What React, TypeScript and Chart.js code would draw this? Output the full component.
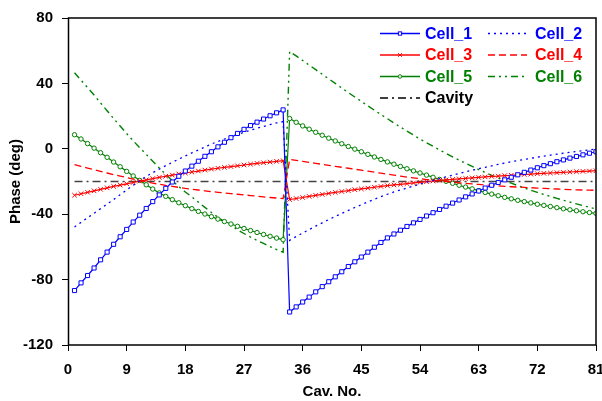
import React, { useEffect, useRef } from 'react';
import { Chart, registerables } from 'chart.js';

Chart.register(...registerables);

// Cavity numbers
const cav = [
  1, 2, 3, 4, 5, 6, 7, 8, 9, 10, 11, 12, 13, 14, 15, 16, 17, 18, 19, 20,
  21, 22, 23, 24, 25, 26, 27, 28, 29, 30, 31, 32, 33, 34, 35, 36, 37, 38, 39, 40,
  41, 42, 43, 44, 45, 46, 47, 48, 49, 50, 51, 52, 53, 54, 55, 56, 57, 58, 59, 60,
  61, 62, 63, 64, 65, 66, 67, 68, 69, 70, 71, 72, 73, 74, 75, 76, 77, 78, 79, 80, 81,
];

const cell1 = [
  -86.7, -82.0, -77.5, -72.9, -67.9, -63.2, -58.4, -53.8, -49.3, -44.8,
  -40.6, -36.5, -32.3, -28.2, -24.2, -20.3, -16.8, -13.6, -10.6, -7.6,
  -4.6, -1.8, 1.2, 4.0, 6.8, 9.4, 11.9, 14.2, 16.3, 18.2,
  20.2, 22.0, 23.8, -99.8, -96.7, -93.7, -90.7, -87.5, -84.3, -81.3,
  -78.3, -75.2, -72.0, -69.1, -66.2, -63.2, -60.2, -57.3, -54.5, -52.1,
  -49.8, -47.5, -45.3, -43.2, -41.1, -39.1, -37.1, -35.1, -33.2, -31.3,
  -29.4, -27.6, -25.8, -24.0, -22.3, -20.6, -19.0, -17.4, -15.9, -14.4,
  -13.0, -11.6, -10.3, -9.1, -7.9, -6.8, -5.7, -4.7, -3.7, -2.7, -1.8,
];

const cell2 = [
  -47.8, -45.0, -42.2, -39.4, -36.6, -33.8, -31.0, -28.1, -25.2, -22.3,
  -19.5, -16.9, -14.6, -12.4, -10.3, -8.3, -6.3, -4.4, -2.5, -0.7,
  1.1, 2.9, 4.5, 6.0, 7.4, 8.8, 10.1, 11.4, 12.6, 13.7,
  14.8, 15.8, 16.6, -56.0, -53.7, -51.5, -49.4, -47.3, -45.3, -43.3,
  -41.4, -39.5, -37.7, -35.9, -34.2, -32.5, -30.9, -29.3, -27.8, -26.4,
  -25.2, -24.0, -22.8, -21.6, -20.4, -19.3, -18.2, -17.1, -16.1, -15.1,
  -14.1, -13.1, -12.2, -11.3, -10.4, -9.5, -8.7, -7.9, -7.2, -6.5,
  -5.8, -5.1, -4.5, -3.9, -3.3, -2.7, -2.1, -1.6, -1.1, -0.6, -0.1,
];

const cell3 = [
  -28.4, -27.5, -26.6, -25.7, -24.8, -23.9, -23.0, -22.2, -21.4, -20.6,
  -19.8, -19.0, -18.2, -17.5, -16.8, -16.1, -15.4, -14.8, -14.2, -13.6,
  -13.0, -12.4, -11.9, -11.4, -10.9, -10.4, -9.9, -9.4, -8.9, -8.5,
  -8.1, -7.7, -7.3, -31.0, -30.4, -29.8, -29.1, -28.5, -27.9, -27.3,
  -26.7, -26.1, -25.6, -25.0, -24.5, -24.0, -23.5, -23.0, -22.5, -22.1,
  -21.7, -21.3, -20.9, -20.5, -20.1, -19.7, -19.3, -19.0, -18.7, -18.4,
  -18.1, -17.8, -17.5, -17.2, -16.9, -16.7, -16.4, -16.2, -15.9, -15.7,
  -15.5, -15.2, -15.0, -14.8, -14.6, -14.4, -14.2, -14.0, -13.8, -13.6, -13.4,
];

const cell4 = [
  -9.7, -10.8, -11.8, -12.8, -13.8, -14.8, -15.8, -16.7, -17.6, -18.5,
  -19.4, -20.2, -21.0, -21.7, -22.4, -23.0, -23.6, -24.2, -24.7, -25.2,
  -25.7, -26.2, -26.6, -27.0, -27.4, -27.8, -28.2, -28.6, -29.0, -29.4,
  -29.8, -30.1, -30.4, -6.5, -7.1, -7.7, -8.3, -8.9, -9.5, -10.1,
  -10.7, -11.3, -11.9, -12.5, -13.1, -13.7, -14.3, -14.9, -15.5, -16.1,
  -16.7, -17.3, -17.8, -18.3, -18.8, -19.2, -19.6, -20.0, -20.4, -20.8,
  -21.2, -21.5, -21.8, -22.1, -22.4, -22.7, -23.0, -23.2, -23.4, -23.6,
  -23.8, -24.0, -24.2, -24.4, -24.6, -24.8, -25.0, -25.1, -25.2, -25.3, -25.4,
];

const cell5 = [
  8.6, 6.0, 3.2, 0.4, -2.4, -5.2, -8.1, -11.0, -13.8, -16.6,
  -19.3, -22.0, -24.6, -27.0, -29.1, -31.1, -33.0, -34.8, -36.6, -38.3,
  -39.9, -41.5, -43.0, -44.5, -46.0, -47.4, -48.7, -50.0, -51.2, -52.4,
  -53.5, -54.6, -55.6, 18.5, 16.2, 14.0, 12.0, 10.1, 8.3, 6.5,
  4.8, 3.1, 1.4, -0.2, -1.8, -3.4, -5.0, -6.5, -8.0, -9.4,
  -10.8, -12.2, -13.5, -14.8, -16.1, -17.4, -18.7, -19.9, -21.1, -22.3,
  -23.4, -24.5, -25.6, -26.7, -27.7, -28.7, -29.7, -30.6, -31.5, -32.3,
  -33.1, -33.9, -34.6, -35.3, -36.0, -36.7, -37.3, -37.9, -38.5, -39.0, -39.5,
];

const cell6 = [
  46.5, 41.9, 37.4, 32.9, 28.0, 23.3, 18.5, 13.9, 9.4, 4.9,
  0.7, -3.4, -7.6, -11.7, -15.7, -19.5, -23.1, -26.4, -29.4, -32.6,
  -35.8, -39.0, -41.8, -44.5, -47.0, -49.5, -51.8, -54.0, -56.0, -57.9,
  -59.8, -61.6, -63.3, 59.5, 56.8, 54.0, 51.2, 48.4, 45.6, 42.8,
  40.0, 37.2, 34.4, 31.7, 29.0, 26.3, 23.6, 21.0, 18.4, 15.8,
  13.3, 10.8, 8.4, 6.0, 3.7, 1.5, -0.7, -2.8, -4.9, -6.9,
  -8.9, -10.8, -12.7, -14.5, -16.2, -17.9, -19.5, -21.0, -22.5, -23.9,
  -25.3, -26.6, -27.9, -29.1, -30.3, -31.5, -32.6, -33.7, -34.8, -35.8, -36.8,
];

const cavityX = [1, 81];
const cavityY = [-20, -20];

const seriesNames = ['Cell_1', 'Cell_2', 'Cell_3', 'Cell_4', 'Cell_5', 'Cell_6', 'Cavity'];

const BLUE = '#0000FF';
const RED = '#FF0000';
const GREEN = '#008000';
const FONT = '"Liberation Sans", Arial, Helvetica, sans-serif';

const toXY = (xs: number[], ys: number[]) => xs.map((x, i) => ({ x, y: ys[i] }));

type Style = { color: string; dash: number[]; marker: string | false; width: number; r: number };

const styles: Style[] = [
  { color: BLUE, dash: [], marker: 'rect', width: 1.2, r: 2.9 },
  { color: BLUE, dash: [2, 4], marker: false, width: 1.3, r: 0 },
  { color: RED, dash: [], marker: 'crossRot', width: 1.2, r: 3.2 },
  { color: RED, dash: [7, 4], marker: false, width: 1.3, r: 0 },
  { color: GREEN, dash: [], marker: 'circle', width: 1.2, r: 2.2 },
  { color: GREEN, dash: [7, 4, 2, 4, 2, 4], marker: false, width: 1.4, r: 0 },
  { color: '#444444', dash: [8, 4, 2, 4], marker: false, width: 1.6, r: 0 },
];

function drawMarker(ctx: CanvasRenderingContext2D, kind: string, x: number, y: number, r: number, color: string) {
  ctx.save();
  ctx.setLineDash([]);
  ctx.strokeStyle = color;
  ctx.lineWidth = 1;
  ctx.fillStyle = '#ffffff';
  if (kind === 'rect') {
    const s = r * Math.SQRT1_2;
    ctx.fillRect(x - s, y - s, 2 * s, 2 * s);
    ctx.strokeRect(x - s, y - s, 2 * s, 2 * s);
  } else if (kind === 'circle') {
    ctx.beginPath();
    ctx.arc(x, y, r, 0, Math.PI * 2);
    ctx.fill();
    ctx.stroke();
  } else if (kind === 'crossRot') {
    const s = r * Math.SQRT1_2;
    ctx.beginPath();
    ctx.moveTo(x - s, y - s);
    ctx.lineTo(x + s, y + s);
    ctx.moveTo(x - s, y + s);
    ctx.lineTo(x + s, y - s);
    ctx.stroke();
  }
  ctx.restore();
}

const framePlugin = {
  id: 'frameAndLegend',
  afterDraw(chart: any) {
    const ctx: CanvasRenderingContext2D = chart.ctx;
    const { left, top, right, bottom } = chart.chartArea;
    ctx.save();
    ctx.strokeStyle = '#000000';
    ctx.lineWidth = 1.5;
    ctx.setLineDash([]);
    ctx.strokeRect(left + 0.5, top, right - left - 0.5, bottom - top);

    // legend (two columns)
    const lineStart = [380, 488];
    const lineEnd = [420, 527];
    const textX = [425, 535];
    const rowY = [33.5, 55, 76.5, 98];
    ctx.font = `bold 16px ${FONT}`;
    ctx.textBaseline = 'middle';
    ctx.textAlign = 'left';
    seriesNames.forEach((name, i) => {
      const st = styles[i];
      const col = i % 2;
      const row = Math.floor(i / 2);
      const y = rowY[row];
      const c = i === 6 ? '#000000' : st.color;
      ctx.save();
      ctx.strokeStyle = c;
      ctx.lineWidth = 1.3;
      ctx.setLineDash(st.dash);
      ctx.beginPath();
      ctx.moveTo(lineStart[col], y);
      ctx.lineTo(lineEnd[col], y);
      ctx.stroke();
      ctx.restore();
      if (st.marker) {
        drawMarker(ctx, st.marker, (lineStart[col] + lineEnd[col]) / 2, y, st.r * 0.8, st.color);
      }
      ctx.fillStyle = c;
      ctx.fillText(name, textX[col], y + 1);
    });
    ctx.restore();
  },
};

export default function App() {
  const canvasRef = useRef<HTMLCanvasElement | null>(null);

  useEffect(() => {
    if (!canvasRef.current) return;
    const cellData = [cell1, cell2, cell3, cell4, cell5, cell6];
    const datasets: any[] = cellData.map((vals, i) => {
      const st = styles[i];
      return {
        label: seriesNames[i],
        data: toXY(cav, vals),
        borderColor: st.color,
        backgroundColor: '#ffffff',
        borderWidth: st.width,
        borderDash: st.dash,
        pointStyle: st.marker || 'circle',
        pointRadius: st.marker ? st.r : 0,
        pointBorderWidth: 1,
        pointBorderColor: st.color,
        pointBackgroundColor: '#ffffff',
        pointHoverRadius: 0,
        tension: 0,
        fill: false,
      };
    });
    datasets.push({
      label: seriesNames[6],
      data: toXY(cavityX, cavityY),
      borderColor: styles[6].color,
      borderWidth: styles[6].width,
      borderDash: styles[6].dash,
      pointRadius: 0,
      tension: 0,
      fill: false,
    });

    const tickFont = { family: FONT, size: 15, weight: 'bold' as const };

    const chart = new Chart(canvasRef.current, {
      type: 'line',
      data: { datasets },
      options: {
        animation: false,
        responsive: false,
        maintainAspectRatio: false,
        devicePixelRatio: 1,
        layout: { padding: { top: 15, right: 6, left: 0, bottom: 0 } },
        plugins: {
          legend: { display: false },
          tooltip: { enabled: false },
          title: { display: false },
        },
        scales: {
          x: {
            type: 'linear',
            min: 0,
            max: 81,
            ticks: { stepSize: 9, color: '#000', font: tickFont, padding: 10, maxRotation: 0, autoSkip: false },
            grid: { display: true, drawOnChartArea: false, drawTicks: true, tickLength: 6, color: '#000', lineWidth: 1 },
            border: { display: false },
            title: { display: true, text: 'Cav. No.', color: '#000', font: { family: FONT, size: 15, weight: 'bold' }, padding: { top: 0, bottom: 0 } },
            afterFit: (scale: any) => {
              scale.height = 56;
              scale.paddingLeft = 0;
              scale.paddingRight = 0;
            },
          },
          y: {
            type: 'linear',
            min: -120,
            max: 80,
            ticks: { stepSize: 40, color: '#000', font: tickFont, padding: 9 },
            grid: { display: true, drawOnChartArea: false, drawTicks: true, tickLength: 6, color: '#000', lineWidth: 1 },
            border: { display: false },
            title: { display: true, text: 'Phase (deg)', color: '#000', font: { family: FONT, size: 15, weight: 'bold' }, padding: { top: 7, bottom: 0 } },
            afterFit: (scale: any) => {
              scale.width = 68;
            },
          },
        },
      },
      plugins: [framePlugin],
    });
    return () => chart.destroy();
  }, []);

  return (
    <div style={{ position: 'absolute', left: 0, top: 0, width: 602, height: 401, background: '#fff' }}>
      <canvas ref={canvasRef} width={602} height={401} style={{ display: 'block' }} />
    </div>
  );
}
